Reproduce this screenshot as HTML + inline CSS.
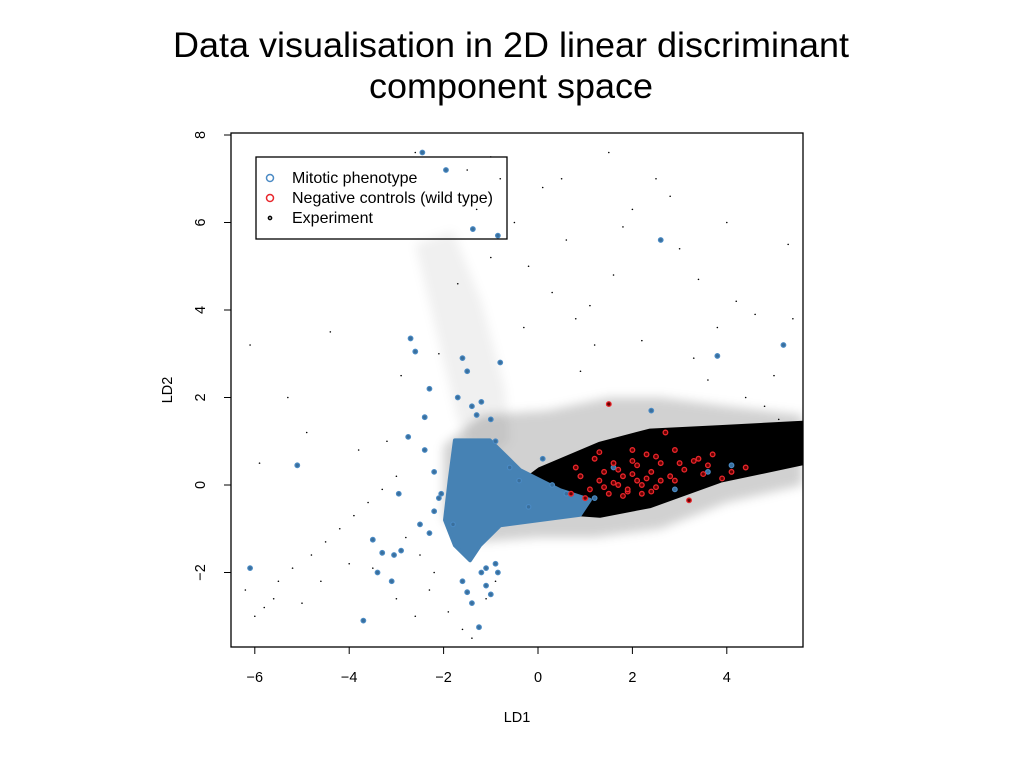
<!DOCTYPE html>
<html><head><meta charset="utf-8"><style>
html,body{margin:0;padding:0;background:#fff;width:1023px;height:767px;overflow:hidden}
svg{display:block}
text{font-family:"Liberation Sans",Arial,sans-serif}
</style></head><body>
<svg id="chart" width="1023" height="767" xmlns="http://www.w3.org/2000/svg">
<text x="511" y="57" font-size="35" text-anchor="middle" fill="#000" textLength="676" lengthAdjust="spacingAndGlyphs">Data visualisation in 2D linear discriminant</text>
<text x="511" y="98" font-size="35" text-anchor="middle" fill="#000" textLength="284" lengthAdjust="spacingAndGlyphs">component space</text>
<g id="plot"></g>
</svg>
<script>
const xTicks=[-6,-4,-2,0,2,4];
const yTicks=[-2,0,2,4,6,8];
// dense experiment core (data coords)
const coreX=[-0.8,0.04,1.31,2.37,3.86,5.61,5.61,3.86,2.37,1.31,0.04];
const coreY=[-0.34,0.34,0.92,1.22,1.3,1.4,0.52,0.12,-0.46,-0.68,-0.58];
// halo of semi-dense experiment points
const haloX=[-2.0,-1.2,0.2,1.5,2.6,4.0,5.6,5.6,4.0,2.6,1.2,0.0,-1.2,-2.0];
const haloY=[0.9,1.6,1.7,2.0,2.0,1.8,1.6,0.0,-0.4,-1.0,-1.2,-1.2,-1.3,-0.8];
// upward fan of experiment points
const fanX=[-2.6,-1.8,-1.2,-0.7,-0.6,-1.2,-1.7];
const fanY=[5.5,5.8,4.2,2.2,1.0,0.5,1.5];
// mitotic cluster blob
const blueBlobX=[-1.76,-1.02,-0.38,0.47,1.1,0.89,0.04,-0.8,-1.23,-1.44,-1.76,-1.97,-1.87];
const blueBlobY=[1.02,1.02,0.34,-0.12,-0.34,-0.68,-0.8,-0.92,-1.38,-1.72,-1.38,-0.8,0.12];
// sparse experiment points
const expX=[-6.2,-5.8,-5.5,-5.2,-4.8,-4.5,-4.2,-3.9,-3.6,-3.3,-3.0,-2.8,-2.5,-2.2,-6.0,-5.6,-5.0,-4.6,-4.0,-3.5,-3.0,-2.6,-2.3,-1.9,-1.6,-1.4,-1.1,-0.9,-0.5,-0.2,0.3,0.8,1.2,1.6,2.0,2.5,3.0,3.4,3.8,4.2,4.6,5.0,5.3,-1.0,0.5,1.5,2.8,3.6,4.4,5.1,-2.1,-1.7,-1.3,-0.8,-3.2,-2.9,-4.4,-5.3,-6.1,-5.9,-3.8,-4.9,0.9,2.2,3.3,4.8,-0.3,1.8,4.0,5.4,-2.6,-1.5,-1.0,0.1,0.6,1.1];
const expY=[-2.4,-2.8,-2.2,-1.9,-1.6,-1.3,-1.0,-0.7,-0.4,-0.1,0.2,-1.2,-1.6,-2.0,-3.0,-2.6,-2.7,-2.2,-1.8,-1.9,-2.6,-3.0,-2.4,-2.9,-3.3,-3.5,-2.6,-2.2,6.0,5.0,4.4,3.8,3.2,4.8,6.3,7.0,5.4,4.7,3.6,4.2,3.9,2.5,5.5,7.5,7.0,7.6,6.6,2.4,2.0,1.5,3.0,4.6,6.3,7.0,1.0,2.5,3.5,2.0,3.2,0.5,0.8,1.2,2.6,3.3,2.9,1.8,3.6,5.9,6.0,3.8,7.6,7.2,5.2,6.8,5.6,4.1];
// mitotic phenotype points
const blueX=[-2.45,-1.95,-1.38,-0.85,2.6,-6.1,-5.1,-3.7,-3.3,-3.1,-2.9,-2.75,-2.7,-2.6,-2.4,-2.3,-2.2,-2.05,-1.7,-1.6,-1.5,-1.4,-1.3,-1.2,-1.1,-1.0,-0.9,-0.8,-3.4,-3.05,-2.95,-3.5,-2.3,-2.5,-2.2,-1.6,-1.5,-1.4,-1.25,-1.1,-0.9,-0.85,-1.2,-1.0,3.8,5.2,2.4,-0.6,-0.4,0.3,0.6,0.9,1.2,1.6,3.6,4.1,2.9,0.1,-0.2,-1.8,-2.1,-2.4];
const blueY=[7.6,7.2,5.85,5.7,5.6,-1.9,0.45,-3.1,-1.55,-2.2,-1.5,1.1,3.35,3.05,1.55,2.2,0.3,-0.2,2.0,2.9,2.6,1.8,1.6,-2.0,-2.3,-2.5,1.0,2.8,-2.0,-1.6,-0.2,-1.25,-1.1,-0.9,-0.6,-2.2,-2.45,-2.7,-3.25,-1.9,-1.8,-2.0,1.9,1.5,2.95,3.2,1.7,0.4,0.1,0.0,-0.2,0.2,-0.3,0.4,0.3,0.45,-0.1,0.6,-0.5,-0.9,-0.3,0.8];
// negative control points
const redX=[1.5,1.6,2.0,2.3,2.7,3.0,3.3,3.6,4.1,4.4,0.9,1.1,1.3,1.4,1.7,1.8,1.9,2.1,2.2,2.4,2.5,2.6,2.8,3.1,3.4,3.7,1.0,1.2,1.5,1.9,2.0,2.3,2.5,2.9,3.2,1.6,1.8,2.1,2.4,0.7,0.8,1.3,2.0,2.6,3.5,1.4,2.2,2.9,1.7,3.9];
const redY=[1.85,0.5,0.8,0.7,1.2,0.5,0.55,0.45,0.3,0.4,0.2,-0.1,0.1,0.3,0.0,0.2,-0.15,0.1,0.0,0.3,-0.05,0.5,0.2,0.35,0.6,0.7,-0.3,0.6,-0.2,-0.1,0.25,0.15,0.65,0.8,-0.35,0.05,-0.25,0.45,-0.15,-0.2,0.4,0.75,0.55,0.1,0.25,-0.05,-0.2,0.1,0.35,0.15];

const L=231,R=803,T=133,B=647;
const sx=v=>538+v*47.2;
const sy=v=>485-v*43.75;
const NS="http://www.w3.org/2000/svg";
const g=document.getElementById('plot');
function mk(tag,attrs,parent){const e=document.createElementNS(NS,tag);for(const k in attrs)e.setAttribute(k,attrs[k]);(parent||g).appendChild(e);return e;}
const defs=mk('defs',{});
const cp=mk('clipPath',{id:'clip'},defs);
mk('rect',{x:L,y:T,width:R-L,height:B-T},cp);
const blur=mk('filter',{id:'soft',x:'-10%',y:'-10%',width:'120%',height:'120%'},defs);
mk('feGaussianBlur',{stdDeviation:5},blur);
const pg=mk('g',{'clip-path':'url(#clip)'});


function poly(xs,ys,fill,op,sw,name,soft){
  const pts=xs.map((x,i)=>sx(x)+','+sy(ys[i])).join(' ');
  const a={points:pts,fill:fill,'fill-opacity':op,'stroke-linejoin':'round'};
  if(sw){a.stroke=fill;a['stroke-width']=sw;}
  if(soft)a.filter='url(#soft)';
  const p=mk('polygon',a,pg);
  
  
}
poly(fanX,fanY,'#000',0.06,0,'experiment-fan',true);
poly(haloX,haloY,'#000',0.18,0,'experiment-halo',true);
poly(coreX,coreY,'#000',1,6,'experiment-core',false);
expX.forEach((x,i)=>{
  const c=mk('circle',{cx:sx(x),cy:sy(expY[i]),r:0.8,fill:'#000'},pg);
  
  
});
poly(blueBlobX,blueBlobY,'#4682b4',1,4,'mitotic-cluster',false);
blueX.forEach((x,i)=>{
  const c=mk('circle',{cx:sx(x),cy:sy(blueY[i]),r:2.3,fill:'#3a6f9c',stroke:'#4a8ac4','stroke-width':1.2},pg);
  
  
});
redX.forEach((x,i)=>{
  const c=mk('circle',{cx:sx(x),cy:sy(redY[i]),r:2.3,fill:'#600',stroke:'#e8262b','stroke-width':1.3},pg);
  
  
});
const frame=mk('rect',{x:L,y:T,width:R-L,height:B-T,fill:'none',stroke:'#000','stroke-width':1.3});


xTicks.forEach(v=>{
  mk('line',{x1:sx(v),x2:sx(v),y1:B,y2:B+7,stroke:'#000','stroke-width':1});
  const t=mk('text',{x:sx(v),y:B+35,'font-size':14.5,'text-anchor':'middle'});
  t.textContent=v<0?'\u2212'+(-v):v;
  
  
});
mk('line',{x1:sx(-6),x2:sx(4),y1:B,y2:B,stroke:'#000'});
yTicks.forEach(v=>{
  mk('line',{x1:L,x2:L-7,y1:sy(v),y2:sy(v),stroke:'#000','stroke-width':1});
  const t=mk('text',{x:0,y:0,'font-size':14.5,'text-anchor':'middle',transform:`translate(${L-26},${sy(v)}) rotate(-90)`});
  t.textContent=v<0?'\u2212'+(-v):v;
  
  
});
mk('line',{x1:L,x2:L,y1:sy(-2),y2:sy(8),stroke:'#000'});
const xt=mk('text',{x:517,y:722,'font-size':14.5,'text-anchor':'middle'});xt.textContent='LD1';


const yt=mk('text',{x:0,y:0,'font-size':14.5,'text-anchor':'middle',transform:'translate(172,390) rotate(-90)'});yt.textContent='LD2';


const lg=mk('g',{});


mk('rect',{x:256,y:157,width:251,height:82,fill:'none',stroke:'#000','stroke-width':1.3},lg);
const items=[['Mitotic phenotype','#4a8ac4',3.5,178],['Negative controls (wild type)','#e8262b',3.5,198],['Experiment','#000',1.6,218]];
items.forEach(it=>{
  const e=mk('g',{},lg);
  
  
  mk('circle',{cx:270,cy:it[3],r:it[2],fill:'none',stroke:it[1],'stroke-width':1.5},e);
  const t=mk('text',{x:292,y:it[3]+5,'font-size':16},e);t.textContent=it[0];
});
</script>
</body></html>
